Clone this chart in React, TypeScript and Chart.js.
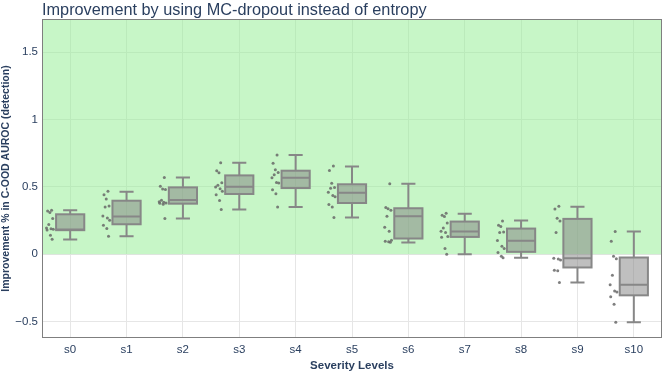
import React, { useEffect, useRef } from "react";
import { Chart, registerables } from "chart.js";

Chart.register(...registerables);

const CATEGORIES = ["s0", "s1", "s2", "s3", "s4", "s5", "s6", "s7", "s8", "s9", "s10"];

const BOX_MIN = [0.109, 0.133, 0.264, 0.331, 0.351, 0.272, 0.086, 0.0, -0.027, -0.21, -0.506];
const BOX_Q1 = [0.178, 0.222, 0.375, 0.447, 0.491, 0.38, 0.116, 0.128, 0.017, -0.099, -0.306];
const BOX_MEDIAN = [0.183, 0.279, 0.402, 0.501, 0.568, 0.457, 0.281, 0.168, 0.099, -0.03, -0.227];
const BOX_Q3 = [0.296, 0.397, 0.496, 0.585, 0.62, 0.519, 0.341, 0.242, 0.19, 0.262, -0.025];
const BOX_MAX = [0.326, 0.464, 0.57, 0.679, 0.736, 0.652, 0.523, 0.301, 0.25, 0.353, 0.168];

const PTS_S0 = [0.326, 0.32, 0.31, 0.264, 0.22, 0.195, 0.188, 0.185, 0.18, 0.141, 0.111];
const PTS_S1 = [0.467, 0.442, 0.41, 0.358, 0.35, 0.284, 0.269, 0.252, 0.215, 0.19, 0.133];
const PTS_S2 = [0.57, 0.504, 0.484, 0.481, 0.4, 0.39, 0.385, 0.38, 0.378, 0.37, 0.264];
const PTS_S3 = [0.679, 0.62, 0.605, 0.531, 0.511, 0.499, 0.486, 0.467, 0.442, 0.398, 0.331];
const PTS_S4 = [0.736, 0.676, 0.627, 0.607, 0.59, 0.568, 0.533, 0.528, 0.479, 0.449, 0.351];
const PTS_S5 = [0.654, 0.622, 0.526, 0.496, 0.49, 0.459, 0.435, 0.427, 0.368, 0.351, 0.272];
const PTS_S6 = [0.523, 0.346, 0.338, 0.326, 0.281, 0.2, 0.17, 0.104, 0.096, 0.092, 0.089];
const PTS_S7 = [0.304, 0.289, 0.28, 0.232, 0.195, 0.17, 0.16, 0.131, 0.126, 0.042, 0.0];
const PTS_S8 = [0.247, 0.215, 0.205, 0.165, 0.16, 0.101, 0.059, 0.042, 0.012, -0.015, -0.027];
const PTS_S9 = [0.356, 0.336, 0.267, 0.247, 0.161, -0.03, -0.037, -0.044, -0.119, -0.123, -0.21];
const PTS_S10 = [0.168, 0.096, -0.015, -0.035, -0.156, -0.227, -0.274, -0.281, -0.316, -0.373, -0.506];
const POINTS = [PTS_S0, PTS_S1, PTS_S2, PTS_S3, PTS_S4, PTS_S5, PTS_S6, PTS_S7, PTS_S8, PTS_S9, PTS_S10];

const Y_TICKS = [-0.5, 0, 0.5, 1, 1.5];

// horizontal jitter pattern (in category units) for the scattered points
const JITTER = [-0.33, -0.4, -0.36, -0.31, -0.38, -0.42, -0.34, -0.3, -0.41, -0.35, -0.32];

const TITLE = "Improvement by using MC-dropout instead of entropy";
const FONT = "'Liberation Sans', Arial, sans-serif";
const TEXT_COLOR = "#2a3f5f";

const overlayPlugin = {
  id: "overlay",
  beforeDatasetsDraw(chart: any) {
    const { ctx, chartArea, scales } = chart;
    const { left, right, top } = chartArea;
    const x = scales.x;
    const y = scales.y;
    ctx.save();
    const y0 = y.getPixelForValue(0);
    ctx.fillStyle = "rgba(144,238,144,0.5)";
    ctx.fillRect(left, top, right - left, y0 - top);
    ctx.lineWidth = 2;
    ctx.strokeStyle = "rgb(135,135,135)";
    for (let i = 0; i < CATEGORIES.length; i++) {
      const xc = x.getPixelForValue(i);
      const half = x.getPixelForValue(i + 0.25) - xc;
      const cap = half / 2;
      const pMin = y.getPixelForValue(BOX_MIN[i]);
      const pQ1 = y.getPixelForValue(BOX_Q1[i]);
      const pMed = y.getPixelForValue(BOX_MEDIAN[i]);
      const pQ3 = y.getPixelForValue(BOX_Q3[i]);
      const pMax = y.getPixelForValue(BOX_MAX[i]);
      ctx.fillStyle = "rgba(128,128,128,0.5)";
      ctx.fillRect(xc - half, pQ3, 2 * half, pQ1 - pQ3);
      ctx.strokeRect(xc - half, pQ3, 2 * half, pQ1 - pQ3);
      ctx.beginPath();
      ctx.moveTo(xc - half, pMed);
      ctx.lineTo(xc + half, pMed);
      ctx.moveTo(xc, pQ3);
      ctx.lineTo(xc, pMax);
      ctx.moveTo(xc - cap, pMax);
      ctx.lineTo(xc + cap, pMax);
      ctx.moveTo(xc, pQ1);
      ctx.lineTo(xc, pMin);
      ctx.moveTo(xc - cap, pMin);
      ctx.lineTo(xc + cap, pMin);
      ctx.stroke();
    }
    ctx.restore();
  },
  afterDraw(chart: any) {
    const { ctx, chartArea } = chart;
    const { left, right, top, bottom } = chartArea;
    ctx.save();
    ctx.strokeStyle = "#7f7f7f";
    ctx.lineWidth = 1;
    ctx.strokeRect(left + 0.5, top + 0.5, right - left - 1, bottom - top - 1);
    ctx.fillStyle = TEXT_COLOR;
    ctx.font = `16.3px ${FONT}`;
    ctx.textAlign = "left";
    ctx.textBaseline = "alphabetic";
    ctx.fillText(TITLE, left, 15);
    ctx.restore();
  },
};

export default function App() {
  const canvasRef = useRef<HTMLCanvasElement | null>(null);

  useEffect(() => {
    document.body.style.margin = "0";
    const canvas = canvasRef.current;
    if (!canvas) return;
    const data: { x: number; y: number }[] = [];
    POINTS.forEach((arr, i) => {
      arr.forEach((v, j) => data.push({ x: i + JITTER[j % JITTER.length], y: v }));
    });
    const chart = new Chart(canvas, {
      type: "scatter",
      data: {
        datasets: [
          {
            data,
            pointRadius: 1.5,
            pointHoverRadius: 1.5,
            backgroundColor: "rgba(105,105,105,0.85)",
            borderWidth: 0,
          },
        ],
      },
      options: {
        animation: false,
        responsive: false,
        maintainAspectRatio: false,
        layout: { padding: { top: 19, right: 2, left: 0, bottom: 0 } },
        plugins: {
          legend: { display: false },
          tooltip: { enabled: false },
          title: { display: false },
        },
        scales: {
          x: {
            type: "linear",
            min: -0.5,
            max: 10.5,
            afterBuildTicks: (scale: any) => {
              scale.ticks = CATEGORIES.map((_, i) => ({ value: i }));
            },
            afterFit: (scale: any) => {
              scale.height = 35;
            },
            ticks: {
              autoSkip: false,
              maxRotation: 0,
              padding: 5,
              color: TEXT_COLOR,
              font: { family: FONT, size: 11.5 },
              callback: (v: any) => CATEGORIES[Math.round(Number(v))] ?? "",
            },
            grid: { color: "#e6e6e6", lineWidth: 1, drawTicks: false },
            border: { display: false },
            title: {
              display: true,
              text: "Severity Levels",
              color: TEXT_COLOR,
              font: { family: FONT, size: 11.5, weight: "bold" },
              padding: { top: 0, bottom: 0 },
            },
          },
          y: {
            type: "linear",
            min: -0.623,
            max: 1.747,
            afterBuildTicks: (scale: any) => {
              scale.ticks = Y_TICKS.map((v) => ({ value: v }));
            },
            afterFit: (scale: any) => {
              scale.width = 42;
            },
            ticks: {
              padding: 4,
              color: TEXT_COLOR,
              font: { family: FONT, size: 11.5 },
              callback: (v: any) => {
                const n = Number(v);
                return n < 0 ? "\u2212" + String(Math.abs(n)) : String(n);
              },
            },
            grid: { color: "#e6e6e6", lineWidth: 1, drawTicks: false },
            border: { display: false },
            title: {
              display: true,
              text: "Improvement % in C-OOD AUROC (detection)",
              color: TEXT_COLOR,
              font: { family: FONT, size: 10.5, weight: "bold" },
              padding: { top: 0, bottom: 0 },
            },
          },
        },
      },
      plugins: [overlayPlugin],
    });
    return () => chart.destroy();
  }, []);

  return (
    <div style={{ width: 664, height: 373 }}>
      <canvas ref={canvasRef} width={664} height={373} style={{ display: "block" }} />
    </div>
  );
}
